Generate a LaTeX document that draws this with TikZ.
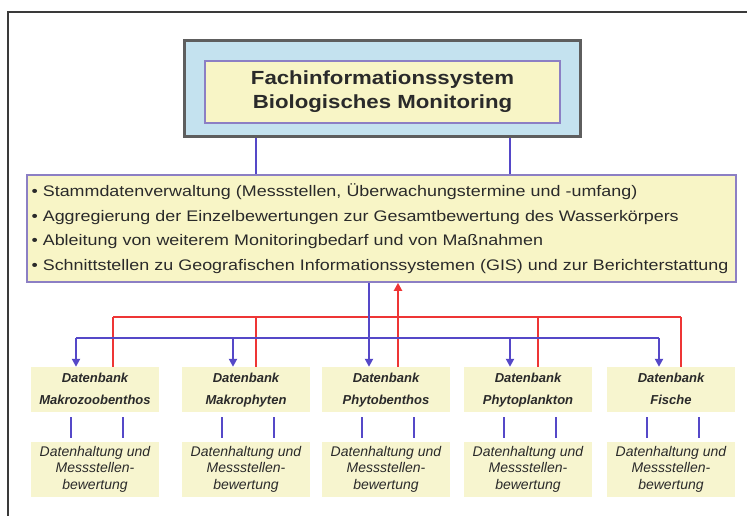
\documentclass[tikz,border=0pt]{standalone}
\usepackage{fontspec}
\setmainfont{Liberation Sans}
\newfontfamily\widesans[FakeStretch=1.17]{Liberation Sans}
\usetikzlibrary{arrows.meta}

\definecolor{frameGray}{HTML}{3A3A3A}
\definecolor{boxGray}{HTML}{5E5E5E}
\definecolor{skyFill}{HTML}{C4E2EF}
\definecolor{paleYellow}{HTML}{F8F5C6}
\definecolor{softYellow}{HTML}{F7F5CF}
\definecolor{lilac}{HTML}{8C7FC4}
\definecolor{linkBlue}{HTML}{5548C8}
\definecolor{linkRed}{HTML}{EE3535}
\definecolor{inkGray}{HTML}{2A2A2A}

\tikzset{
  outerbox/.style={draw=boxGray, line width=3pt, fill=skyFill, inner sep=0pt},
  titlebox/.style={draw=lilac, line width=1.4pt, fill=paleYellow, inner sep=0pt,
    align=center, font=\widesans\fontsize{19}{24}\selectfont\bfseries, text=inkGray},
  listbox/.style={draw=lilac, line width=1.6pt, fill=paleYellow, inner xsep=4.5pt, inner ysep=0pt,
    align=left, text=inkGray, font=\widesans\fontsize{15.3}{24.5}\selectfont},
  dbbox/.style={fill=softYellow, inner sep=0pt, minimum width=128pt, minimum height=45pt,
    align=center, font=\fontsize{13}{22}\selectfont\bfseries\itshape, text=inkGray},
  evalbox/.style={fill=softYellow, inner sep=0pt, minimum width=128pt, minimum height=55pt,
    align=center, font=\fontsize{14}{16.5}\selectfont\itshape, text=inkGray},
  blueline/.style={draw=linkBlue, line width=2pt},
  bluearrow/.style={blueline, -{Triangle[width=8pt,length=8pt]}},
  redline/.style={draw=linkRed, line width=2pt},
  redarrow/.style={redline, -{Triangle[width=8pt,length=8pt]}},
  tieline/.style={draw=linkBlue, line width=2.2pt, shorten <=5pt, shorten >=3pt},
}

\begin{document}
\begin{tikzpicture}[x=1pt, y=-1pt]
\useasboundingbox (0,0) rectangle (747,516);
\fill[white] (0,0) rectangle (747,516);

% open frame, left and top edges only
\draw[frameGray, line width=1.5pt] (8,516) -- (8,12) -- (747,12);

% system header
\node[outerbox, minimum width=396pt, minimum height=96pt] (sysouter) at (382,89) {};
\node[titlebox, minimum width=355pt, minimum height=62pt] (title) at (382.5,92)
  {Fachinformationssystem\\Biologisches Monitoring};

% task list
\node[listbox, minimum width=709pt, minimum height=107pt, text width=700pt] (tasks) at (381.5,228.5)
  {• Stammdatenverwaltung (Messstellen, Überwachungstermine und -umfang)\\
   • Aggregierung der Einzelbewertungen zur Gesamtbewertung des Wasserkörpers\\
   • Ableitung von weiterem Monitoringbedarf und von Maßnahmen\\
   • Schnittstellen zu Geografischen Informationssystemen (GIS) und zur Berichterstattung};

% header to task list
\draw[blueline] ([xshift=-126pt]sysouter.south) -- ([xshift=-126pt]sysouter.south |- tasks.north);
\draw[blueline] ([xshift=128pt]sysouter.south) -- ([xshift=128pt]sysouter.south |- tasks.north);

% databases
\node[dbbox] (db1) at (95,389.5)  {Datenbank\strut\\Makrozoobenthos\strut};
\node[dbbox] (db2) at (246,389.5) {Datenbank\strut\\Makrophyten\strut};
\node[dbbox] (db3) at (386,389.5) {Datenbank\strut\\Phytobenthos\strut};
\node[dbbox] (db4) at (528,389.5) {Datenbank\strut\\Phytoplankton\strut};
\node[dbbox] (db5) at (671,389.5) {Datenbank\strut\\Fische\strut};

% data keeping and site assessment
\node[evalbox] (ev1) at (95,469)  {Datenhaltung und\\Messstellen-\\bewertung};
\node[evalbox] (ev2) at (246,469) {Datenhaltung und\\Messstellen-\\bewertung};
\node[evalbox] (ev3) at (386,469) {Datenhaltung und\\Messstellen-\\bewertung};
\node[evalbox] (ev4) at (528,469) {Datenhaltung und\\Messstellen-\\bewertung};
\node[evalbox] (ev5) at (671,469) {Datenhaltung und\\Messstellen-\\bewertung};

% bus heights
\coordinate (redbus) at (0,317);
\coordinate (bluebus) at (0,338);

% red feedback bus: databases up to the task list
\draw[redline] ([xshift=18pt]db1.north |- redbus) -- ([xshift=10pt]db5.north |- redbus);
\draw[redline] ([xshift=18pt]db1.north) -- ([xshift=18pt]db1.north |- redbus);
\draw[redline] ([xshift=10pt]db2.north) -- ([xshift=10pt]db2.north |- redbus);
\draw[redarrow] ([xshift=12pt]db3.north) -- ([xshift=12pt]db3.north |- tasks.south);
\draw[redline] ([xshift=10pt]db4.north) -- ([xshift=10pt]db4.north |- redbus);
\draw[redline] ([xshift=10pt]db5.north) -- ([xshift=10pt]db5.north |- redbus);

% blue distribution bus: task list down to the databases
\draw[blueline] ([xshift=-19pt]db1.north |- bluebus) -- ([xshift=-12pt]db5.north |- bluebus);
\draw[bluearrow] ([xshift=-17pt]db3.north |- tasks.south) -- ([xshift=-17pt]db3.north);
\draw[bluearrow] ([xshift=-19pt]db1.north |- bluebus) -- ([xshift=-19pt]db1.north);
\draw[bluearrow] ([xshift=-13pt]db2.north |- bluebus) -- ([xshift=-13pt]db2.north);
\draw[bluearrow] ([xshift=-18pt]db4.north |- bluebus) -- ([xshift=-18pt]db4.north);
\draw[bluearrow] ([xshift=-12pt]db5.north |- bluebus) -- ([xshift=-12pt]db5.north);

% short ties between database and assessment
\foreach \i in {1,...,5} {
  \draw[tieline] ([xshift=-24pt]db\i.south) -- ([xshift=-24pt]db\i.south |- ev\i.north);
  \draw[tieline] ([xshift=28pt]db\i.south) -- ([xshift=28pt]db\i.south |- ev\i.north);
}
\end{tikzpicture}
\end{document}
